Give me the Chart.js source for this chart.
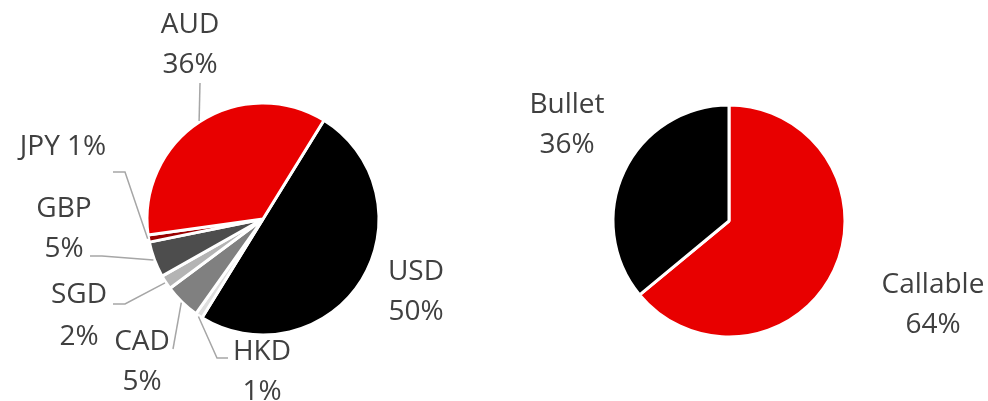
<!DOCTYPE html>
<html>
<head>
<meta charset="utf-8">
<script src="https://cdn.jsdelivr.net/npm/chart.js@4"></script>
<style>
  html, body { margin: 0; padding: 0; background: #fff; }
  #wrap { position: relative; width: 988px; height: 401px; overflow: hidden; }
  canvas { position: absolute; top: 0; }
</style>
</head>
<body>
<div id="wrap">
  <canvas id="fx" width="494" height="401" style="left:0"></canvas>
  <canvas id="type" width="494" height="401" style="left:494px"></canvas>
</div>
<script>
// currency split
const fxLabels = ['USD', 'HKD', 'CAD', 'SGD', 'GBP', 'JPY', 'AUD']
const fxValues = [50, 1, 5, 2, 5, 1, 36]
const fxColors = ['#000000', '#dedede', '#808080', '#b4b4b4', '#4d4d4d', '#990000', '#e80000']

// callable vs bullet
const typeLabels = ['Callable', 'Bullet']
const typeValues = [64, 36]
const typeColors = ['#e80000', '#000000']

const FONT = '28px "Open Sans", sans-serif'
const TEXT_COLOR = '#404040'
const LINE_COLOR = '#a6a6a6'

// where each label sits (canvas coords): centre x, baselines, elbow points of leader line
const fxLayout = [
  { x: 416, y: [280, 320] },
  { x: 262, y: [360, 400], leader: [[228, 358], [217, 358]] },
  { x: 142, y: [350, 390], leader: [[173, 349]] },
  { x: 79, y: [303, 345], leader: [[113, 304], [125, 304]] },
  { x: 64, y: [217, 257], leader: [[90, 256], [102, 256]] },
  { x: 63, y: [155], single: true, leader: [[113, 172], [125, 172]] },
  { x: 190, y: [33, 73], leader: [[200, 83]] }
]
const typeLayout = [
  { x: 439, y: [293, 333] },
  { x: 73, y: [113, 153] }
]

const labelPlugin = {
  id: 'sliceLabels',
  afterDraw (chart, args, opts) {
    const ctx = chart.ctx
    const meta = chart.getDatasetMeta(0)
    const labels = chart.data.labels
    const values = chart.data.datasets[0].data
    ctx.save()
    meta.data.forEach((arc, i) => {
      const lay = opts.layout[i]
      if (lay.leader) {
        const mid = (arc.startAngle + arc.endAngle) / 2
        const ex = arc.x + Math.cos(mid) * (arc.outerRadius + 1)
        const ey = arc.y + Math.sin(mid) * (arc.outerRadius + 1)
        ctx.strokeStyle = LINE_COLOR
        ctx.lineWidth = 1.5
        ctx.beginPath()
        ctx.moveTo(lay.leader[0][0], lay.leader[0][1])
        for (let k = 1; k < lay.leader.length; k++) ctx.lineTo(lay.leader[k][0], lay.leader[k][1])
        ctx.lineTo(ex, ey)
        ctx.stroke()
      }
      ctx.fillStyle = TEXT_COLOR
      ctx.font = FONT
      ctx.textAlign = 'center'
      ctx.textBaseline = 'alphabetic'
      const pct = values[i] + '%'
      if (lay.single) {
        ctx.fillText(labels[i] + ' ' + pct, lay.x, lay.y[0])
      } else {
        ctx.fillText(labels[i], lay.x, lay.y[0])
        ctx.fillText(pct, lay.x, lay.y[1])
      }
    })
    ctx.restore()
  }
}

function makePie (id, labels, values, colors, layout, rotation, padding) {
  return new Chart(document.getElementById(id).getContext('2d'), {
    type: 'pie',
    data: {
      labels: labels,
      datasets: [{
        data: values,
        backgroundColor: colors,
        borderColor: '#ffffff',
        borderWidth: 3,
        radius: 116
      }]
    },
    options: {
      responsive: false,
      animation: false,
      rotation: rotation,
      layout: { padding: padding },
      plugins: {
        legend: { display: false },
        tooltip: { enabled: false },
        sliceLabels: { layout: layout }
      }
    },
    plugins: [labelPlugin]
  })
}

makePie('fx', fxLabels, fxValues, fxColors, fxLayout, 31.7,
  { left: 147, right: 115, top: 103, bottom: 66 })
makePie('type', typeLabels, typeValues, typeColors, typeLayout, 0,
  { left: 119, right: 143, top: 105, bottom: 64 })
</script>
</body>
</html>
